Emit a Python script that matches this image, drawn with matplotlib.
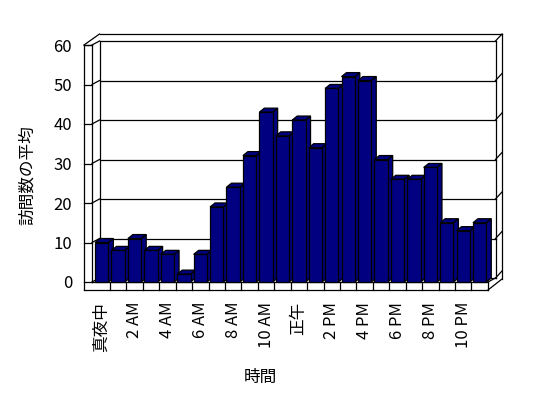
import matplotlib
matplotlib.use("Agg")
import matplotlib.pyplot as plt
from matplotlib.patches import Polygon
from matplotlib.lines import Line2D
from matplotlib.transforms import IdentityTransform
import numpy as np

plt.rcParams['font.family'] = ['Noto Sans CJK JP', 'DejaVu Sans']

# data
hours = np.arange(24)
visits = [10, 8, 11, 8, 7, 2, 7, 19, 24, 32, 43, 37,
          41, 34, 49, 52, 51, 31, 26, 26, 29, 15, 13, 15]
tick_pos = hours[::2]
tick_labels = ['真夜中', '2 AM', '4 AM', '6 AM', '8 AM', '10 AM',
               '正午', '2 PM', '4 PM', '6 PM', '8 PM', '10 PM']
y_ticks = [0, 10, 20, 30, 40, 50, 60]

W, H = 548, 398
navy = '#000080'
lw = 0.9

fig = plt.figure(figsize=(W / 100, H / 100), dpi=100)
ax = fig.add_axes([84 / W, (H - 282) / H, (488 - 84) / W, (282 - 45) / H])

bars = ax.bar(hours, visits, width=0.81, color=navy, edgecolor='black', linewidth=lw)
ax.set_xlim(-1.077, 23.51)
ax.set_ylim(0, 60)
for s in ax.spines.values():
    s.set_visible(False)
ax.patch.set_visible(False)

ax.set_yticks(y_ticks)
ax.tick_params(axis='y', length=0, pad=8.6, labelsize=12)
ax.set_xticks(tick_pos, tick_labels, rotation=90)
ax.tick_params(axis='x', length=0, pad=14.4, labelsize=12)

ident = IdentityTransform()


def seg(x0, y0, x1, y1, z=1):
    ax.add_line(Line2D([x0, x1], [y0, y1], transform=ident, color='black',
                       lw=lw, clip_on=False, zorder=z))


# frame geometry (display pixels)
L, B = ax.transData.transform((-1.077, 0))
R, T = ax.transData.transform((23.51, 60))
wt = 8          # left wall thickness
ft = 8          # floor thickness
dx, dy = 7.5, 4  # depth of the floor / walls
ox, oy = 6.5, 7  # back wall thickness
Li = L + wt
Lb = Li + dx
Rb = R + dx

# gridlines on left wall and back wall
for v in y_ticks:
    y = ax.transData.transform((0, v))[1]
    seg(L, y, Li, y)
    seg(Li, y, Lb, y + dy)
    seg(Lb, y + dy, Rb, y + dy)
    seg(Rb, y + dy, Rb + ox, y + dy + oy)

# left wall
seg(L, B - ft, L, T)
seg(L, T, Li, T)
seg(Li, B, Li, T)
seg(L, T, Lb, T + dy + oy)
# back wall
seg(Lb, B + dy, Lb, T + dy)
seg(Lb, T + dy + oy, Rb + ox, T + dy + oy)
seg(Rb, B + dy, Rb, T + dy)
seg(Rb + ox, T + dy + oy, Rb + ox, B - ft + dy + oy)
# floor
seg(L, B - ft, R, B - ft)
seg(Li, B, R, B)
seg(R, B - ft, R, B)
seg(R, B, Rb, B + dy)
seg(R, B - ft, Rb + ox, B - ft + dy + oy)
for i in hours[:-1]:
    x = ax.transData.transform((i + 0.5, 0))[0]
    seg(x, B - ft, x, B)

# 3d sides and tops of the bars
bdx, bdy = 5, 4
for i, p in enumerate(bars.patches):
    x0, y0 = ax.transData.transform((p.get_x(), 0))
    x1, y1 = ax.transData.transform((p.get_x() + p.get_width(), p.get_height()))
    side = [(x1, y0), (x1 + bdx, y0 + bdy), (x1 + bdx, y1 + bdy), (x1, y1)]
    top = [(x0, y1), (x1, y1), (x1 + bdx, y1 + bdy), (x0 + bdx, y1 + bdy)]
    for pts in (side, top):
        ax.add_patch(Polygon(pts, closed=True, transform=ident, facecolor=navy,
                             edgecolor='black', lw=lw, clip_on=False, zorder=3 + 2 * i))
    p.set_zorder(4 + 2 * i)
    p.set_clip_on(False)

fig.text(27.5 / W, 1 - 175 / H, '訪問数の平均', rotation=90, ha='center', va='center', fontsize=12)
fig.text(260 / W, 1 - 377 / H, '時間', ha='center', va='center', fontsize=12)

fig.savefig('out.png', dpi=100)
